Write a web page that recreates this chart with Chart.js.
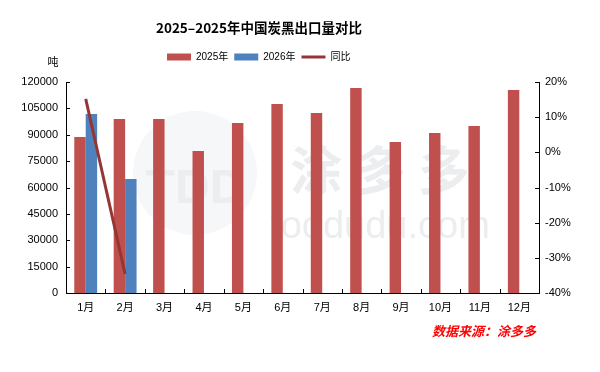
<!DOCTYPE html>
<html>
<head>
<meta charset="utf-8">
<script src="https://cdn.jsdelivr.net/npm/chart.js@4"></script>
<style>
html, body { margin: 0; padding: 0; background: #fff; }
#wrap { width: 600px; height: 372px; position: relative; }
</style>
</head>
<body>
<div id="wrap"><canvas id="BarChart"></canvas></div>
<script>
const months = ['1月', '2月', '3月', '4月', '5月', '6月', '7月', '8月', '9月', '10月', '11月', '12月'];
const exports2025 = [88700, 99000, 99000, 80800, 96700, 107500, 102400, 116600, 85900, 91000, 95000, 115500];
const exports2026 = [101800, 64800];
const yoyRate = [15.2, -34.6];

const cjk = "'Liberation Sans', 'Noto Sans CJK SC', sans-serif";

// watermark, source note, unit label and the inward tick marks
const decorations = {
    id: 'decorations',
    afterLayout(chart) {
        // title and legend sit left of the page centre and higher up in the original
        const tb = chart.titleBlock;
        const th = tb.height;
        tb.right = chart.width - 82;
        tb.top = 28 - th / 2;
        tb.bottom = tb.top + th;

        const lg = chart.legend;
        const lh = lg.height;
        const p = lg.options.labels.padding;
        const ih = lg.legendHitBoxes.length ? lg.legendHitBoxes[0].height : 11;
        lg.left = 167 - p;
        lg.top = 57 - p - ih / 2;
        lg.bottom = lg.top + lh;
    },
    beforeDatasetsDraw(chart) {
        const { ctx } = chart;
        ctx.save();
        ctx.fillStyle = '#F6F7F9';
        ctx.beginPath();
        ctx.arc(195, 173, 62, 0, Math.PI * 2);
        ctx.fill();
        ctx.fillStyle = '#ECEDEF';
        ctx.font = 'bold 48px "Liberation Sans", sans-serif';
        ctx.textAlign = 'center';
        ctx.textBaseline = 'middle';
        ctx.fillText('TDD', 195, 190);
        ctx.font = 'bold 52px "Noto Sans CJK SC", sans-serif';
        ctx.fillText('涂 多 多', 380, 170);
        ctx.font = '38px "Liberation Sans", sans-serif';
        ctx.fillText('toodudu.com', 380, 228);
        ctx.restore();
    },
    afterDraw(chart) {
        const { ctx, chartArea: a, scales } = chart;
        ctx.save();
        ctx.strokeStyle = '#000';
        ctx.lineWidth = 1;
        ctx.beginPath();
        scales.y.ticks.forEach((t, i) => {
            const y = Math.round(scales.y.getPixelForTick(i)) + 0.5;
            ctx.moveTo(a.left, y);
            ctx.lineTo(a.left + 4, y);
        });
        scales.y1.ticks.forEach((t, i) => {
            const y = Math.round(scales.y1.getPixelForTick(i)) + 0.5;
            ctx.moveTo(a.right - 4, y);
            ctx.lineTo(a.right, y);
        });
        const half = (scales.x.getPixelForValue(1) - scales.x.getPixelForValue(0)) / 2;
        for (let i = 1; i < months.length; i++) {
            const x = Math.round(scales.x.getPixelForValue(i) - half) + 0.5;
            ctx.moveTo(x, a.bottom);
            ctx.lineTo(x, a.bottom - 4);
        }
        ctx.stroke();

        ctx.fillStyle = '#000';
        ctx.font = '11px "Noto Sans CJK SC", sans-serif';
        ctx.textAlign = 'center';
        ctx.textBaseline = 'middle';
        ctx.fillText('吨', 53, 62);

        ctx.fillStyle = '#FF0000';
        ctx.font = 'italic bold 13px "Noto Sans CJK SC", sans-serif';
        ctx.textAlign = 'left';
        ctx.fillText('数据来源：涂多多', 432, 331);
        ctx.restore();
    }
};

const ctx = document.getElementById('BarChart');

new Chart(ctx, {
    type: 'bar',
    data: {
        labels: months,
        datasets: [{
            label: '2025年',
            data: exports2025,
            backgroundColor: '#C0504D',
            borderWidth: 0,
            categoryPercentage: 0.58,
            barPercentage: 1,
            pointStyle: 'rect',
            yAxisID: 'y',
            order: 1
        }, {
            label: '2026年',
            data: exports2026,
            backgroundColor: '#4F81BD',
            borderWidth: 0,
            categoryPercentage: 0.58,
            barPercentage: 1,
            pointStyle: 'rect',
            yAxisID: 'y',
            order: 1
        }, {
            type: 'line',
            label: '同比',
            data: yoyRate,
            borderColor: '#943634',
            backgroundColor: '#943634',
            borderWidth: 3,
            pointRadius: 0,
            pointStyle: 'line',
            tension: 0,
            yAxisID: 'y1',
            order: 0
        }]
    },
    options: {
        responsive: true,
        maintainAspectRatio: false,
        animation: false,
        layout: { padding: 0 },
        plugins: {
            title: {
                display: true,
                text: '2025–2025年中国炭黑出口量对比',
                color: '#000',
                font: { size: 13.5, weight: 'bold', family: "'Noto Sans CJK SC', sans-serif" },
                padding: 0
            },
            legend: {
                align: 'start',
                labels: {
                    usePointStyle: true,
                    pointStyleWidth: 24,
                    boxHeight: 7,
                    padding: 6,
                    color: '#000',
                    font: { size: 10, family: cjk },
                    sort: (a, b) => a.datasetIndex - b.datasetIndex
                }
            },
            tooltip: { enabled: false }
        },
        scales: {
            x: {
                grid: { display: false, drawTicks: false },
                border: { color: '#000', width: 1 },
                ticks: { color: '#000', font: { size: 11, family: cjk }, padding: 8 },
                afterFit: (s) => { s.height = 79; }
            },
            y: {
                position: 'left',
                min: 0,
                max: 120000,
                grid: { display: false, drawTicks: false },
                border: { color: '#000', width: 1 },
                ticks: { stepSize: 15000, color: '#000', font: { size: 11, family: cjk }, padding: 8, callback: (v) => String(v) },
                afterFit: (s) => { s.width = 66; s.paddingTop = 82; }
            },
            y1: {
                position: 'right',
                min: -40,
                max: 20,
                grid: { display: false, drawTicks: false },
                border: { color: '#000', width: 1 },
                ticks: { stepSize: 10, color: '#000', font: { size: 11, family: cjk }, padding: 6, callback: (v) => v + '%' },
                afterFit: (s) => { s.width = 61; s.paddingTop = 82; }
            }
        }
    },
    plugins: [decorations]
});
</script>
</body>
</html>
